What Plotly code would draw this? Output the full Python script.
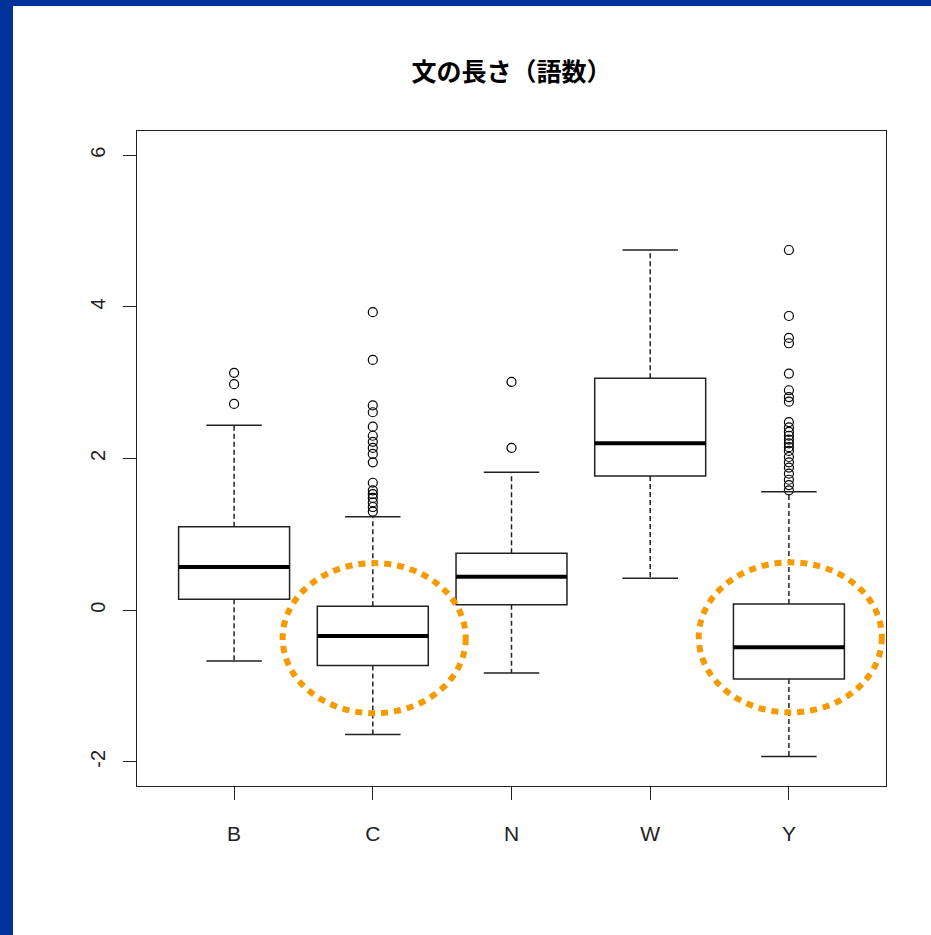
import plotly.graph_objects as go

# ---- data ----
categories = ["B", "C", "N", "W", "Y"]
lower_whisker = [-0.67, -1.64, -0.83, 0.42, -1.93]
q1 = [0.145, -0.73, 0.07, 1.77, -0.91]
median = [0.57, -0.34, 0.44, 2.20, -0.49]
q3 = [1.10, 0.05, 0.75, 3.06, 0.08]
upper_whisker = [2.44, 1.23, 1.82, 4.75, 1.56]
outliers_B = [3.13, 2.98, 2.72]
outliers_C = [3.93, 3.30, 2.70, 2.61, 2.42, 2.30, 2.22, 2.14, 2.06, 1.95,
              1.68, 1.58, 1.53, 1.48, 1.42, 1.36, 1.30]
outliers_N = [3.01, 2.14]
outliers_W = []
outliers_Y = [4.75, 3.88, 3.59, 3.52, 3.12, 2.90, 2.81, 2.75, 2.48, 2.41,
              2.35, 2.30, 2.25, 2.20, 2.15, 2.10, 2.02, 1.95, 1.88, 1.80,
              1.72, 1.65, 1.58]
outliers = [outliers_B, outliers_C, outliers_N, outliers_W, outliers_Y]
y_ticks = [-2, 0, 2, 4, 6]
title_text = "文の長さ（語数）"
highlighted = ["C", "Y"]
highlight_center_y = [-0.37, -0.36]

# ---- styling ----
BOX_HALF = 0.4
CAP_HALF = 0.2
LINE_COL = "#222222"
ORANGE = "#F79A00"
BLUE = "#003399"

fig = go.Figure()
shapes = []

for i, cat in enumerate(categories):
    x = i + 1
    shapes.append(dict(type="rect", xref="x", yref="y",
                       x0=x - BOX_HALF, x1=x + BOX_HALF, y0=q1[i], y1=q3[i],
                       line=dict(color=LINE_COL, width=1.5), layer="above"))
    shapes.append(dict(type="line", xref="x", yref="y",
                       x0=x - BOX_HALF, x1=x + BOX_HALF, y0=median[i], y1=median[i],
                       line=dict(color="black", width=4), layer="above"))
    for a, b in [(q3[i], upper_whisker[i]), (q1[i], lower_whisker[i])]:
        shapes.append(dict(type="line", xref="x", yref="y",
                           x0=x, x1=x, y0=a, y1=b,
                           line=dict(color=LINE_COL, width=1.5, dash="5px,3px"),
                           layer="above"))
    for v in [upper_whisker[i], lower_whisker[i]]:
        shapes.append(dict(type="line", xref="x", yref="y",
                           x0=x - CAP_HALF, x1=x + CAP_HALF, y0=v, y1=v,
                           line=dict(color=LINE_COL, width=1.5), layer="above"))
    if outliers[i]:
        fig.add_trace(go.Scatter(
            x=[x] * len(outliers[i]), y=outliers[i], mode="markers",
            marker=dict(symbol="circle-open", size=9,
                        line=dict(color="black", width=1.2), color="black"),
            showlegend=False, hoverinfo="y"))

# orange dotted ellipses around highlighted groups
ELL_RX = 0.66
ELL_RY = 0.99
for cat, cy in zip(highlighted, highlight_center_y):
    cx = categories.index(cat) + 1 + 0.01
    shapes.append(dict(type="circle", xref="x", yref="y",
                       x0=cx - ELL_RX, x1=cx + ELL_RX, y0=cy - ELL_RY, y1=cy + ELL_RY,
                       line=dict(color=ORANGE, width=6, dash="7px,6px"),
                       layer="above"))

# blue frame edges of the slide (paper coords)
shapes.append(dict(type="rect", xref="paper", yref="paper",
                   x0=-0.2, x1=-137 / 749 + 13 / 749, y0=-0.3, y1=1.3,
                   fillcolor=BLUE, line=dict(width=0), layer="below"))
shapes.append(dict(type="rect", xref="paper", yref="paper",
                   x0=-0.2, x1=1.2, y0=(786 - 6) / 655, y1=1.3,
                   fillcolor=BLUE, line=dict(width=0), layer="below"))

fig.update_layout(
    width=931, height=935,
    margin=dict(l=137, r=45, t=131, b=149),
    paper_bgcolor="white", plot_bgcolor="white",
    shapes=shapes,
    showlegend=False,
    title=dict(text="<b>" + title_text + "</b>", x=(137 + 886) / 2 / 931,
               xanchor="center", y=1 - 72 / 935, yanchor="middle",
               font=dict(family="Noto Sans CJK JP", size=25, color="black")),
    xaxis=dict(range=[0.3, 5.7], tickmode="array",
               tickvals=list(range(1, len(categories) + 1)), ticktext=categories,
               showgrid=False, zeroline=False, showline=True, mirror=True,
               linecolor="#222222", linewidth=1.2,
               ticks="outside", ticklen=13, tickwidth=1.2, tickcolor="#222222",
               tickfont=dict(family="Liberation Sans", size=21, color="#222222"),
               ticklabelstandoff=16),
    yaxis=dict(range=[-2.32, 6.32], tickmode="array", tickvals=y_ticks,
               ticktext=[str(v) for v in y_ticks], tickangle=-90,
               showgrid=False, zeroline=False, showline=True, mirror=True,
               linecolor="#222222", linewidth=1.2,
               ticks="outside", ticklen=13, tickwidth=1.2, tickcolor="#222222",
               tickfont=dict(family="Liberation Sans", size=20, color="#222222"),
               ticklabelstandoff=10),
)

fig.write_html("out.html", config={"displayModeBar": False},
               post_script="document.body.style.margin='0';document.body.style.overflow='hidden';")
